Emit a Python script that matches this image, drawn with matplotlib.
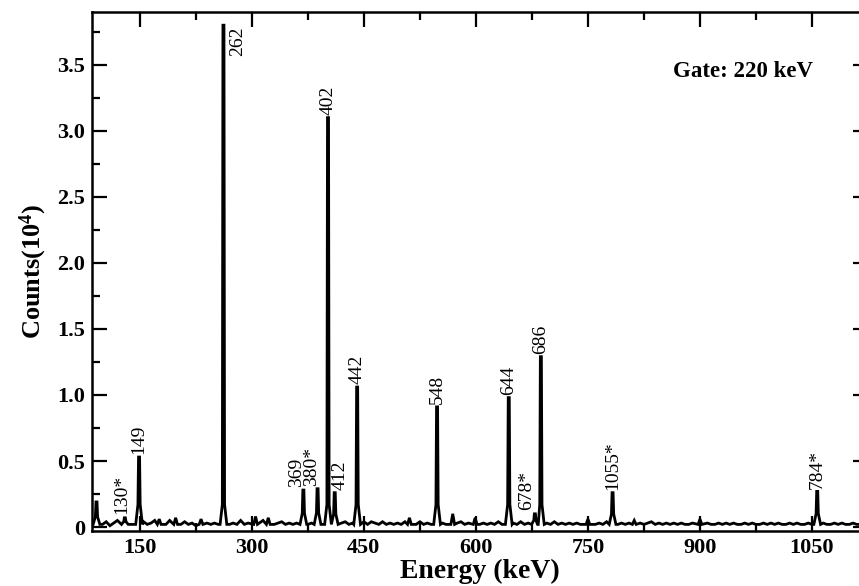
"""Gamma-gated coincidence spectrum (gate 220 keV) with labelled transitions."""

import matplotlib
import numpy as np

matplotlib.use("Agg")
import matplotlib.pyplot as plt  # noqa: E402
from matplotlib.ticker import FuncFormatter, MultipleLocator  # noqa: E402

# ---- data (counts in units of 10^4) -------------------------------------------------
base_energy = list(range(90, 1121, 5))
base_counts = [
    0.03, 0.05, 0.02, 0.04, 0.01, 0.03, 0.05, 0.02, 0.03, 0.04,   # 90-135
    0.02, 0.03, 0.02, 0.04, 0.02, 0.03, 0.05, 0.02, 0.04, 0.02,   # 140-185
    0.05, 0.02, 0.03, 0.02, 0.04, 0.02, 0.03, 0.01, 0.03, 0.02,   # 190-235
    0.03, 0.02, 0.03, 0.02, 0.02, 0.04, 0.02, 0.03, 0.02, 0.05,   # 240-285
    0.02, 0.03, 0.01, 0.04, 0.02, 0.05, 0.02, 0.03, 0.02, 0.03,   # 290-335
    0.04, 0.02, 0.03, 0.02, 0.03, 0.02, 0.04, 0.02, 0.03, 0.02,   # 340-385
    0.03, 0.02, 0.04, 0.02, 0.03, 0.02, 0.03, 0.04, 0.02, 0.03,   # 390-435
    0.02, 0.03, 0.04, 0.02, 0.04, 0.03, 0.02, 0.04, 0.02, 0.03,   # 440-485
    0.02, 0.03, 0.02, 0.04, 0.02, 0.03, 0.02, 0.04, 0.02, 0.03,   # 490-535
    0.02, 0.04, 0.02, 0.03, 0.02, 0.04, 0.02, 0.03, 0.04, 0.02,   # 540-585
    0.03, 0.02, 0.04, 0.02, 0.03, 0.02, 0.03, 0.02, 0.04, 0.02,   # 590-635
    0.03, 0.02, 0.03, 0.02, 0.04, 0.02, 0.03, 0.05, 0.02, 0.03,   # 640-685
    0.02, 0.03, 0.02, 0.04, 0.02, 0.03, 0.02, 0.03, 0.02, 0.03,   # 690-735
    0.02, 0.04, 0.02, 0.03, 0.02, 0.03, 0.02, 0.04, 0.02, 0.03,   # 740-785
    0.02, 0.03, 0.02, 0.03, 0.04, 0.02, 0.03, 0.02, 0.03, 0.04,   # 790-835
    0.02, 0.03, 0.02, 0.03, 0.02, 0.03, 0.02, 0.03, 0.02, 0.02,   # 840-885
    0.03, 0.02, 0.03, 0.02, 0.03, 0.02, 0.02, 0.03, 0.02, 0.03,   # 890-935
    0.02, 0.03, 0.02, 0.02, 0.03, 0.02, 0.03, 0.02, 0.02, 0.03,   # 940-985
    0.02, 0.03, 0.02, 0.03, 0.02, 0.02, 0.03, 0.02, 0.03, 0.02,   # 990-1035
    0.02, 0.03, 0.02, 0.03, 0.02, 0.03, 0.02, 0.02, 0.03, 0.02,   # 1040-1085
    0.03, 0.02, 0.02, 0.03, 0.02, 0.02, 0.03,                     # 1090-1120
]

peak_energy = [92, 130, 149, 262, 369, 388, 402, 411, 441, 548, 644, 679, 687, 783, 1057]
peak_counts = [0.19, 0.07, 0.53, 3.80, 0.28, 0.29, 3.10, 0.26, 1.06, 0.91, 0.98, 0.10,
               1.29, 0.26, 0.27]
peak_label = ["", "130*", "149", "262", "369", "380*", "402", "412", "442", "548", "644",
              "678*", "686", "1055*", "784*"]

bump_energy = [176, 198, 232, 305, 322, 511, 569, 599, 750, 812, 900]
bump_counts = [0.06, 0.07, 0.06, 0.08, 0.07, 0.07, 0.10, 0.07, 0.06, 0.05, 0.06]

# label offsets in points (dx, dy) relative to the peak top -- layout only
label_offset = {"262": (10, -1), "369": (-5, 2), "380*": (-4, 2), "412": (4, 2),
                "678*": (-6, 3), "130*": (-2, 3)}


def build_spectrum():
    pts = []
    centres = peak_energy + bump_energy
    for e, c in zip(base_energy, base_counts):
        if min(abs(e - p) for p in centres) > 5:
            pts.append((e, c))
    for e, h in zip(peak_energy, peak_counts):
        b = 0.02
        foot = min(0.15, 0.3 * h)
        pts += [(e - 4.5, b), (e - 1.5, b + foot), (e - 0.7, h), (e + 0.7, h),
                (e + 1.5, b + foot), (e + 4.5, b)]
    for e, h in zip(bump_energy, bump_counts):
        pts += [(e - 2.5, 0.02), (e, h), (e + 2.5, 0.02)]
    pts.sort()
    return np.array([p[0] for p in pts]), np.array([p[1] for p in pts])


plt.rcParams["font.family"] = ["Liberation Serif", "DejaVu Serif"]
plt.rcParams["mathtext.fontset"] = "custom"
plt.rcParams["mathtext.rm"] = "Liberation Serif:bold"
plt.rcParams["mathtext.it"] = "Liberation Serif:bold"
plt.rcParams["mathtext.bf"] = "Liberation Serif:bold"

W, H = 859, 586
fig = plt.figure(figsize=(W / 100, H / 100), dpi=100)
ax = fig.add_axes([92 / W, 1 - 531 / H, (868 - 92) / W, (531 - 12) / H])

x, y = build_spectrum()
ax.plot(x, y, color="black", lw=2.0, solid_joinstyle="miter")

for e, h, lab in zip(peak_energy, peak_counts, peak_label):
    if not lab:
        continue
    dx, dy = label_offset.get(lab, (0, 2))
    va = "top" if lab == "262" else "bottom"
    ax.annotate(lab, (e, h), xytext=(dx, dy), textcoords="offset points",
                rotation=90, ha="center", va=va, fontsize=14)

ax.text(0.929, 0.885, "Gate: 220 keV", transform=ax.transAxes, ha="right", va="center",
        fontsize=16.5, fontweight="bold")

ax.set_xlim(86, 1125)
ax.set_ylim(-0.03, 3.9)
ax.xaxis.set_major_locator(MultipleLocator(150))
ax.xaxis.set_minor_locator(MultipleLocator(75))
ax.yaxis.set_major_locator(MultipleLocator(0.5))
ax.yaxis.set_minor_locator(MultipleLocator(0.25))
ax.yaxis.set_major_formatter(FuncFormatter(lambda v, _: "0" if abs(v) < 1e-9 else f"{v:.1f}"))
ax.tick_params(which="both", direction="in", top=True, right=True, width=1.6,
               labelsize=16, pad=5)
ax.tick_params(which="major", length=11)
ax.tick_params(which="minor", length=6)
for lab in ax.get_xticklabels() + ax.get_yticklabels():
    lab.set_fontweight("bold")
for sp in ax.spines.values():
    sp.set_linewidth(1.8)

ax.set_xlabel("Energy (keV)", fontsize=20, fontweight="bold", labelpad=1)
ax.set_ylabel(r"Counts(10$^{4}$)", fontsize=19, fontweight="bold", labelpad=6)

fig.savefig("out.png", dpi=100)
